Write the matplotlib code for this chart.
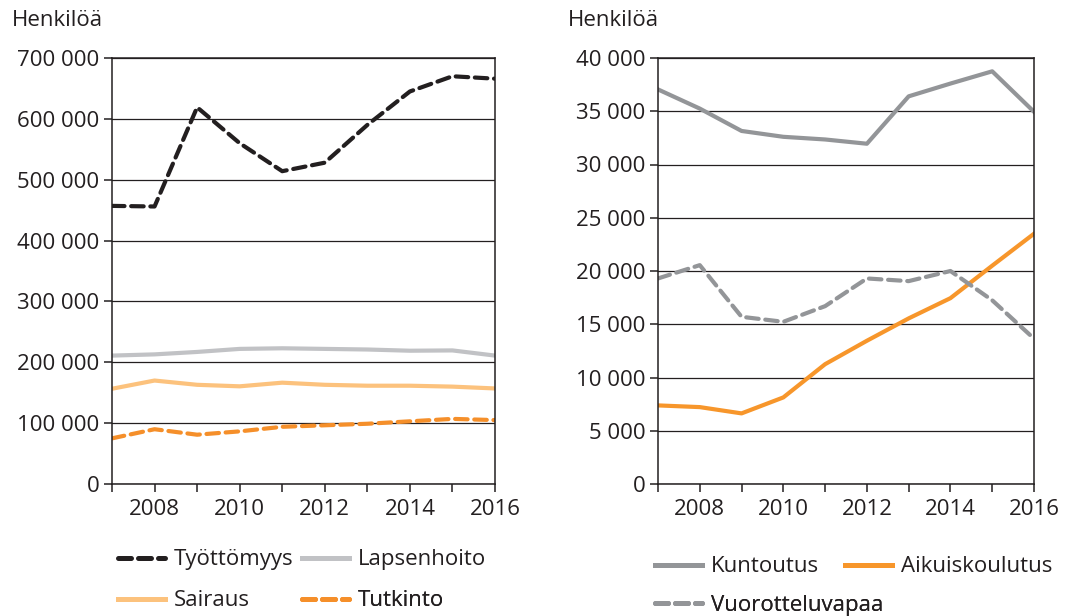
import matplotlib
matplotlib.use("Agg")
import matplotlib.pyplot as plt
from matplotlib.lines import Line2D
from matplotlib.ticker import FuncFormatter, MultipleLocator

plt.rcParams["font.family"] = ["Open Sans", "DejaVu Sans"]

years = list(range(2007, 2017))

# left panel
tyottomyys = [457000, 456000, 619000, 560000, 514000, 528000, 590000, 645000, 670000, 666000]
lapsenhoito = [211000, 213000, 217000, 222000, 223000, 222000, 221000, 219000, 219500, 211000]
sairaus = [156500, 170000, 163000, 160500, 166500, 163000, 161500, 161500, 160000, 157000]
tutkinto = [75000, 90000, 81000, 86500, 94000, 96500, 99000, 103000, 107000, 105000]

# right panel
kuntoutus = [37050, 35250, 33150, 32600, 32350, 31950, 36400, 37600, 38750, 34950]
aikuiskoulutus = [7380, 7220, 6630, 8130, 11250, 13450, 15550, 17450, 20500, 23500]
vuorotteluvapaa = [19300, 20550, 15700, 15230, 16700, 19300, 19050, 20000, 17250, 13650]

DARK = "#231f20"
FS = 16
W, H = 1091, 616


def fmt_thousands(v, pos):
    return f"{int(v):,}".replace(",", " ")


def style_axes(ax, ymax, ystep):
    ax.set_xlim(2007, 2016)
    ax.set_ylim(0, ymax)
    ax.yaxis.set_major_locator(MultipleLocator(ystep))
    ax.yaxis.set_major_formatter(FuncFormatter(fmt_thousands))
    ax.set_xticks(years)
    ax.set_xticklabels([str(y) if y % 2 == 0 else "" for y in years])
    ax.grid(True, axis="y", color=DARK, linewidth=0.9)
    ax.set_axisbelow(True)
    for s in ax.spines.values():
        s.set_color(DARK)
        s.set_linewidth(1.1)
    ax.tick_params(axis="both", labelsize=FS, colors=DARK, length=6, width=1.1, direction="out")
    ax.tick_params(axis="x", pad=5)
    ax.tick_params(axis="y", pad=3)


def legend_entry(ax, line, text, x_px, y_px):
    # one legend per entry so the rows line up like the original
    h = Line2D([], [], color=line.get_color(), lw=3.6,
               linestyle=line.get_linestyle(), dash_capstyle="round")
    if line.get_linestyle() != "-":
        h.set_dashes((2.6, 1.4))
    leg = ax.legend([h], [text], loc="center left", bbox_to_anchor=(x_px / W, 1 - y_px / H),
                    bbox_transform=fig.transFigure, frameon=False, fontsize=FS,
                    handlelength=2.1, handletextpad=0.4, borderpad=0, borderaxespad=0,
                    labelcolor=DARK)
    ax.add_artist(leg)


fig = plt.figure(figsize=(W / 100, H / 100), dpi=100)
ax1 = fig.add_axes([112 / W, 132 / H, 383 / W, 426 / H])
ax2 = fig.add_axes([658 / W, 132 / H, 376 / W, 426 / H])

lw = 3.0
l_ty, = ax1.plot(years, tyottomyys, color=DARK, lw=lw, dashes=(3, 1.6), dash_capstyle="round")
l_la, = ax1.plot(years, lapsenhoito, color="#c1c2c5", lw=lw)
l_sa, = ax1.plot(years, sairaus, color="#fcc27d", lw=lw)
l_tu, = ax1.plot(years, tutkinto, color="#f58f2a", lw=lw, dashes=(3, 1.6), dash_capstyle="round")
style_axes(ax1, 700000, 100000)

l_ku, = ax2.plot(years, kuntoutus, color="#939598", lw=lw)
l_ai, = ax2.plot(years, aikuiskoulutus, color="#f7962b", lw=lw)
l_vu, = ax2.plot(years, vuorotteluvapaa, color="#939598", lw=lw, dashes=(3, 1.6), dash_capstyle="round")
style_axes(ax2, 40000, 5000)

fig.text(12 / W, 1 - 21 / H, "Henkilöä", fontsize=FS, color=DARK, va="center", ha="left")
fig.text(568 / W, 1 - 21 / H, "Henkilöä", fontsize=FS, color=DARK, va="center", ha="left")

legend_entry(ax1, l_ty, "Työttömyys", 118, 560)
legend_entry(ax1, l_la, "Lapsenhoito", 302, 560)
legend_entry(ax1, l_sa, "Sairaus", 118, 601)
legend_entry(ax1, l_tu, "Tutkinto", 302, 601)

legend_entry(ax2, l_ku, "Kuntoutus", 655, 567)
legend_entry(ax2, l_ai, "Aikuiskoulutus", 845, 567)
legend_entry(ax2, l_vu, "Vuorotteluvapaa", 655, 605)

fig.savefig("out.png", dpi=100, facecolor="white")
